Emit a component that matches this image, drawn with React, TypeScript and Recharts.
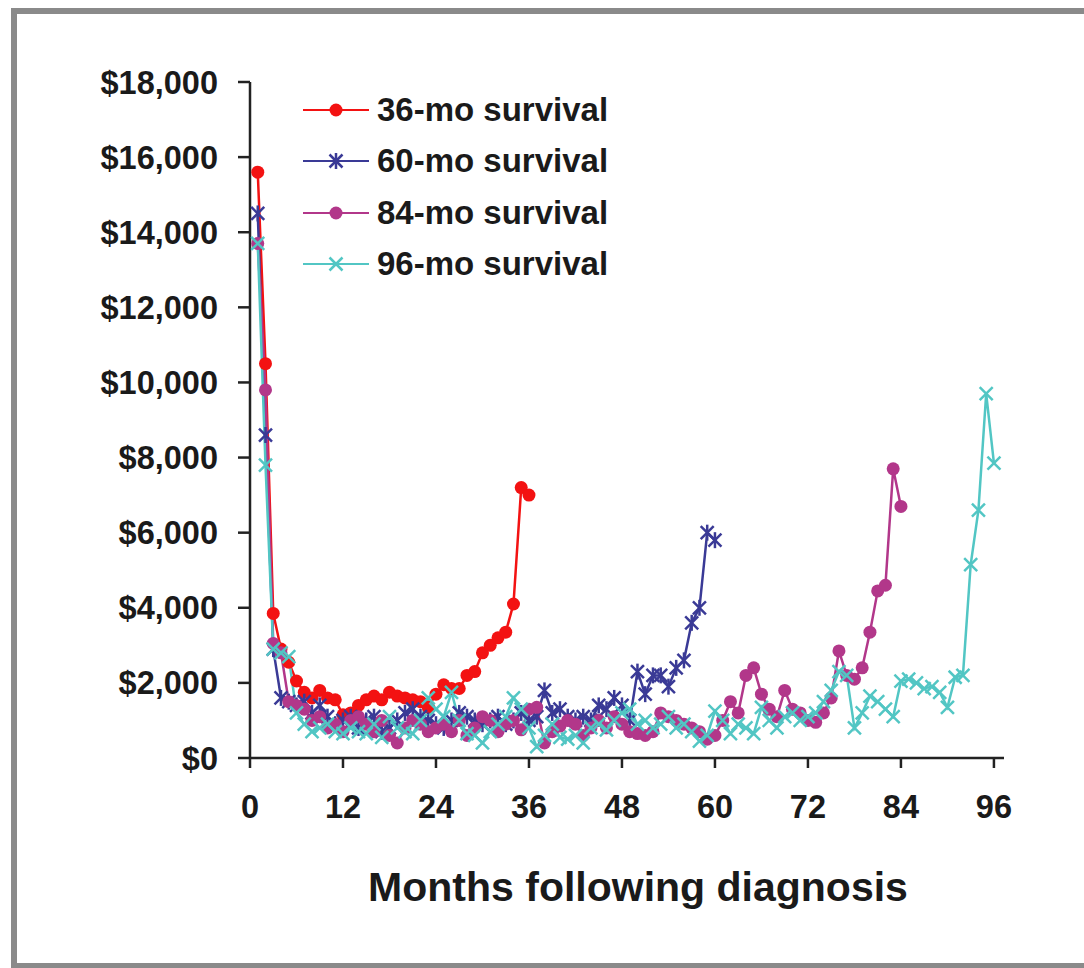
import React from 'react'
import { LineChart, Line, XAxis, YAxis } from 'recharts'

// monthly cost per survival group, months 1..N
const surv36 = [
  15600, 10500, 3850, 2900, 2550, 2050, 1750, 1600, 1800, 1600,
  1550, 1150, 1200, 1400, 1550, 1650, 1550, 1750, 1650, 1600,
  1550, 1500, 1350, 1700, 1950, 1850, 1850, 2200, 2300, 2800,
  3000, 3200, 3350, 4100, 7200, 7000,
]

const surv60 = [
  14500, 8600, 2900, 1600, 1500, 1400, 1500, 1200, 1400, 1100,
  900, 1000, 1100, 800, 1000, 1100, 700, 800, 1000, 1200,
  1300, 1100, 1000, 900, 800, 1000, 1200, 1100, 1000, 900,
  1000, 1100, 900, 1000, 1200, 1000, 1100, 1800, 1200, 1300,
  1100, 1000, 1100, 1000, 1400, 1300, 1600, 1400, 1000, 2300,
  1700, 2200, 2200, 1900, 2400, 2600, 3600, 4000, 6000, 5800,
]

const surv84 = [
  13700, 9800, 3050, 2800, 1500, 1400, 1300, 1000, 1100, 800,
  900, 700, 1000, 1100, 900, 700, 1000, 600, 400, 800,
  1000, 900, 700, 800, 900, 700, 1000, 600, 800, 1100,
  1000, 700, 900, 1000, 750, 1300, 1350, 400, 700, 850,
  1000, 900, 600, 800, 1000, 800, 1100, 900, 700, 650,
  600, 700, 1200, 1100, 1000, 900, 800, 700, 500, 600,
  1000, 1500, 1200, 2200, 2400, 1700, 1300, 1100, 1800, 1300,
  1200, 1000, 950, 1200, 1600, 2850, 2200, 2100, 2400, 3350,
  4450, 4600, 7700, 6700,
]

const surv96 = [
  13700, 7800, 2900, 2800, 2700, 1200, 900, 700, 800, 900,
  700, 650, 800, 700, 650, 900, 550, 1100, 800, 700,
  650, 1000, 1600, 1300, 1100, 1750, 1000, 650, 600, 400,
  700, 900, 1100, 1600, 1300, 800, 300, 600, 900, 550,
  500, 600, 400, 800, 900, 750, 1000, 1200, 1300, 900,
  1000, 800, 900, 1100, 800, 900, 700, 450, 600, 1250,
  1000, 650, 900, 800, 650, 1350, 1000, 800, 1100, 1200,
  1000, 1100, 1200, 1500, 1800, 2300, 2200, 800, 1200, 1650,
  1500, 1300, 1100, 2050, 2100, 2000, 1850, 1900, 1750, 1350,
  2150, 2200, 5150, 6600, 9700, 7850,
]

const xTicks = [0, 12, 24, 36, 48, 60, 72, 84, 96]
const yTicks = [0, 2000, 4000, 6000, 8000, 10000, 12000, 14000, 16000, 18000]

const seriesInfo = [
  { key: 's36', name: '36-mo survival', color: '#f31212', shape: 'circle' },
  { key: 's60', name: '60-mo survival', color: '#3a3a96', shape: 'star' },
  { key: 's84', name: '84-mo survival', color: '#b2378a', shape: 'circle' },
  { key: 's96', name: '96-mo survival', color: '#52c6c4', shape: 'cross' },
]

const months = surv96.map((_, i) => i + 1)
const data = months.map((m, i) => ({
  month: m,
  s36: surv36[i],
  s60: surv60[i],
  s84: surv84[i],
  s96: surv96[i],
}))

const FONT = '"Liberation Sans", Arial, Helvetica, sans-serif'

const Marker = ({ x, y, shape, color }: { x: number; y: number; shape: string; color: string }) => {
  if (shape === 'circle') return <circle cx={x} cy={y} r={6.5} fill={color} />
  const d = 6.5
  if (shape === 'star') {
    return (
      <g stroke={color} strokeWidth={2.5}>
        <line x1={x - d} y1={y - d} x2={x + d} y2={y + d} />
        <line x1={x - d} y1={y + d} x2={x + d} y2={y - d} />
        <line x1={x} y1={y - d - 1.5} x2={x} y2={y + d + 1.5} />
      </g>
    )
  }
  return (
    <g stroke={color} strokeWidth={2.5}>
      <line x1={x - d} y1={y - d} x2={x + d} y2={y + d} />
      <line x1={x - d} y1={y + d} x2={x + d} y2={y - d} />
    </g>
  )
}

const makeDot = (shape: string, color: string) => (props: any) => {
  const { cx, cy, index, value } = props
  if (cx == null || cy == null || value == null || isNaN(cy)) return <g key={index} />
  return (
    <g key={index}>
      <Marker x={cx} y={cy} shape={shape} color={color} />
    </g>
  )
}

const LegendBox = () => (
  <div style={{ position: 'absolute', left: 303, top: 84, fontFamily: FONT }}>
    {seriesInfo.map((s) => (
      <div key={s.key} style={{ display: 'flex', alignItems: 'center', height: 51.5 }}>
        <svg width={66} height={20}>
          <line x1={0} y1={10} x2={66} y2={10} stroke={s.color} strokeWidth={2.2} />
          <Marker x={33} y={10} shape={s.shape} color={s.color} />
        </svg>
        <span style={{ marginLeft: 8, fontSize: 33, fontWeight: 700, color: '#1a1a1a' }}>{s.name}</span>
      </div>
    ))}
  </div>
)

const tickStyle = { fontSize: 32.5, fontWeight: 700, fill: '#1a1a1a', fontFamily: FONT }

export default function App() {
  return (
    <div
      style={{
        position: 'absolute',
        left: 0,
        top: 0,
        width: 1084,
        height: 968,
        overflow: 'hidden',
        background: '#fff',
      }}
    >
      <div
        style={{
          position: 'absolute',
          left: 11,
          top: 8,
          width: 1200,
          height: 949,
          border: '6px solid #8a8a8a',
        }}
      />
      <div style={{ position: 'absolute', left: 0, top: 0 }}>
        <LineChart width={1084} height={968} data={data} margin={{ top: 82, right: 80, bottom: 150, left: 0 }}>
          <XAxis
            type='number'
            dataKey='month'
            domain={[0, 97.3]}
            ticks={xTicks}
            interval={0}
            allowDataOverflow
            height={60}
            tick={tickStyle}
            tickSize={10}
            tickMargin={27}
            axisLine={{ stroke: '#222', strokeWidth: 2.5 }}
            tickLine={{ stroke: '#222', strokeWidth: 2.5 }}
          />
          <YAxis
            type='number'
            domain={[0, 18000]}
            ticks={yTicks}
            interval={0}
            width={250}
            tick={tickStyle}
            tickSize={12}
            tickMargin={20}
            tickFormatter={(v: number) => '$' + v.toLocaleString('en-US')}
            axisLine={{ stroke: '#222', strokeWidth: 2.5 }}
            tickLine={{ stroke: '#222', strokeWidth: 2.5 }}
          />
          {seriesInfo.map((s) => (
            <Line
              key={s.key}
              type='linear'
              dataKey={s.key}
              name={s.name}
              stroke={s.color}
              strokeWidth={2.5}
              dot={makeDot(s.shape, s.color)}
              activeDot={false}
              isAnimationActive={false}
            />
          ))}
        </LineChart>
      </div>
      <LegendBox />
      <div
        style={{
          position: 'absolute',
          left: 0,
          width: 1276,
          top: 864,
          textAlign: 'center',
          fontFamily: FONT,
          fontSize: 41,
          fontWeight: 700,
          color: '#1a1a1a',
        }}
      >
        Months following diagnosis
      </div>
    </div>
  )
}
